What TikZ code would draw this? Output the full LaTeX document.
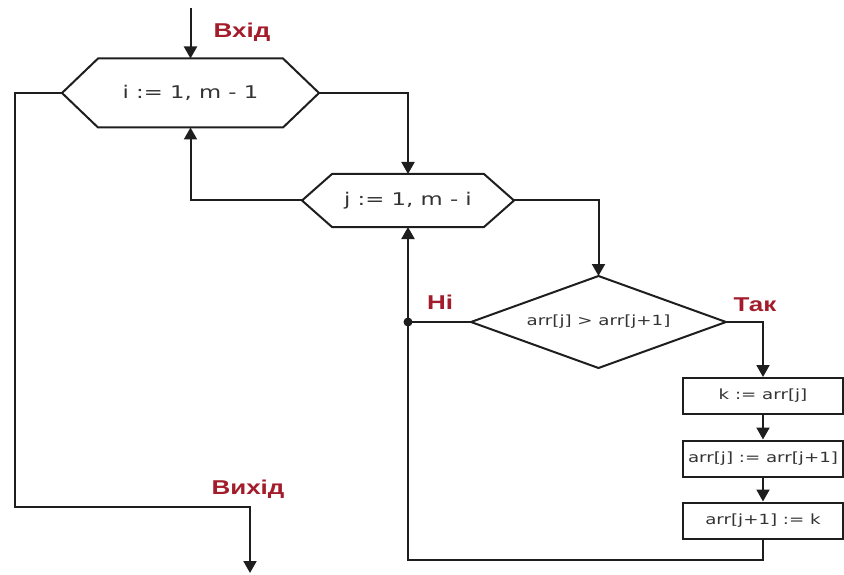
\documentclass[tikz,border=0pt]{standalone}
\usepackage{fontspec}
\setmainfont{DejaVu Sans}
\newfontfamily\lblfont{Liberation Sans}
\usetikzlibrary{arrows.meta,calc}
\definecolor{lblred}{HTML}{A31C2B}
\definecolor{txtgray}{HTML}{333333}
\definecolor{linegray}{HTML}{1E1E1E}
% horizontally widened text
\newcommand\widetxt[1]{\scalebox{1.3}[1]{#1}}
\begin{document}
\begin{tikzpicture}[x=1pt,y=-1pt,
  line width=2pt, draw=linegray,
  frame/.style={inner sep=0pt, draw=none, text=txtgray},
  hexfont/.style={font=\fontsize{17.5}{20}\selectfont},
  boxfont/.style={font=\fontsize{14}{16}\selectfont},
  procbox/.style={frame, boxfont, draw=linegray, minimum width=160pt, minimum height=36pt},
  lbl/.style={inner sep=0pt, text=lblred, font=\lblfont\bfseries\fontsize{20}{22}\selectfont},
  arr/.style={-{Triangle[length=12pt,width=13pt]}},
]
\useasboundingbox (0,0) rectangle (844,575);

% loop headers (hexagons)
\node[frame, hexfont, minimum width=255pt, minimum height=67pt] (h1) at (190.5,93) {\widetxt{i := 1, m - 1}};
\draw (h1.west) -- ([xshift=36pt]h1.north west) -- ([xshift=-36pt]h1.north east) -- (h1.east)
      -- ([xshift=-36pt]h1.south east) -- ([xshift=36pt]h1.south west) -- cycle;

\node[frame, hexfont, minimum width=210pt, minimum height=51pt] (h2) at (408,200.5) {\widetxt{j := 1, m - i}};
\draw (h2.west) -- ([xshift=30pt]h2.north west) -- ([xshift=-30pt]h2.north east) -- (h2.east)
      -- ([xshift=-30pt]h2.south east) -- ([xshift=30pt]h2.south west) -- cycle;

% comparison (diamond)
\node[frame, boxfont, minimum width=253pt, minimum height=90pt] (d) at (598.5,322) {\widetxt{arr[j] > arr[j+1]}};
\draw (d.west) -- (d.north) -- (d.east) -- (d.south) -- cycle;

% swap steps
\node[procbox] (b1) at (763,396) {\widetxt{k := arr[j]}};
\node[procbox] (b2) at (763,458.5) {\widetxt{arr[j] := arr[j+1]}};
\node[procbox] (b3) at (763,520.5) {\widetxt{arr[j+1] := k}};

% labels
\node[lbl] (lin) at (242,32) {\widetxt{Вхід}};
\node[lbl] (lout) at (248,489) {\widetxt{Вихід}};
\node[lbl] (lno) at (440,302) {\widetxt{Ні}};
\node[lbl] (lyes) at (755,305) {\widetxt{Так}};

% connectors
\coordinate (start) at (190.5,8);
\coordinate (lb) at (15,507);
\coordinate (finish) at (250,573);
\coordinate (back) at (408,560);
\coordinate (jn) at (408,322);

\draw[arr] (start) -- (h1.north);
\draw[arr] (h1.east) -| (h2.north);
\draw[arr] (h2.west) -| (h1.south);
\draw[arr] (h2.east) -| (d.north);
\draw[arr] (d.east) -| (b1.north);
\draw[arr] (b1.south) -- (b2.north);
\draw[arr] (b2.south) -- (b3.north);
\draw[arr] (b3.south) |- (back) -- (h2.south);
\draw (d.west) -- (jn);
\fill[linegray] (jn) circle (4.5pt);
\draw[arr] (h1.west) -| (lb) -| (finish);
\end{tikzpicture}
\end{document}
